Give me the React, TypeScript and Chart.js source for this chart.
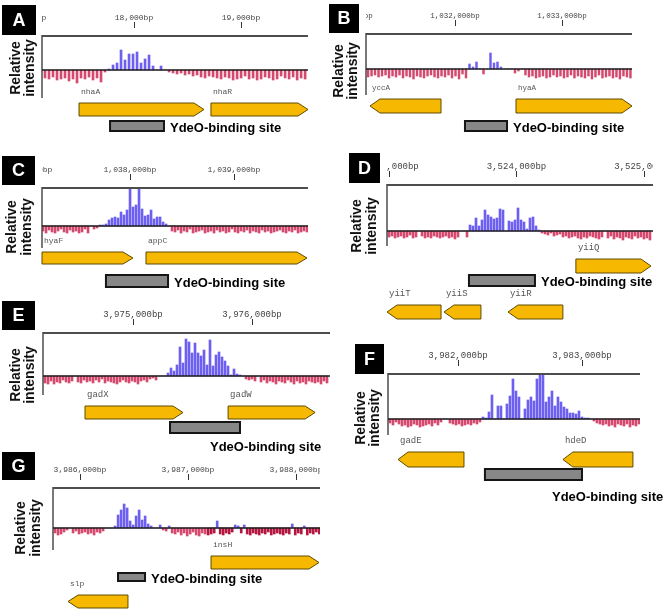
import React, { useEffect, useRef } from "react";
import { Chart, registerables } from "chart.js";
Chart.register(...registerables);

const W = 670;
const H = 610;

// ---------- DATA ----------
// Panel A (nhaA / nhaR)
const aProbeStart = 17168;
const aProbeStep = 37.4;
const aValues = [
  -8, -9, -7, -10, -9, -8, -11, -9, -13, -8, -9, -7, -10, -8, -12,
  -2,
  1, 5, 7, 20, 10, 16, 16, 18, 7, 11, 15, 4, 0, 4,
  0, -2,
  -3, -4, -3, -5, -4, -6, -5, -7, -8, -6, -7, -8, -9, -7, -8, -10, -9, -8, -6, -9, -8, -10, -9, -7, -8, -10, -9, -6, -8, -9, -7, -10, -8, -9,
];
const aTicks = [17000, 18000, 19000];
const aGenes: [string, number, number, number][] = [
  ["nhaA", 17486, 18654, 1],
  ["nhaR", 18719, 19626, 1],
];
const aSite = [17776, 18280];

// Panel B (yccA / hyaA)
const bProbeStart = 1031187;
const bProbeStep = 32.7;
const bValues = [
  -8, -7, -6, -8, -7, -6, -9, -7, -8, -6, -9, -7, -8, -10, -7, -8, -9, -7, -6, -8, -9, -7, -8, -6, -9, -7, -10, -5, -9,
  5, 2, 7, 0, -5, 0, 16, 6, 7, 2, 0, 0, 0, -4, -2, 0,
  -6, -8, -7, -9, -8, -7, -9, -8, -6, -8, -7, -9, -8, -6, -9, -7, -8, -9, -7, -10, -8, -6, -9, -8, -7, -9, -8, -10, -7, -8, -9,
];
const bTicks = [1031000, 1032000, 1033000];
const bGenes: [string, number, number, number][] = [
  ["yccA", 1031205, 1031869, -1],
  ["hyaA", 1032570, 1033654, 1],
];
const bSite = [1032093, 1032486];

// Panel C (hyaF / appC)
const cProbeStart = 1037164;
const cProbeStep = 28.85;
const cValues = [
  -5, -7, -4, -6, -7, -5, -3, -6, -7, -4, -6, -5, -7, -6, -3, -7,
  0, -3, -2,
  1, 1, 2, 6, 8, 9, 8, 14, 11, 16, 40, 19, 21, 40, 17, 10, 11, 16, 7, 9, 9, 4, 2,
  0,
  -5, -6, -4, -7, -5, -6, -3, -7, -6, -5, -4, -7, -6, -5, -7, -4, -6, -5, -7, -6,
  -3, -6, -7, -5, -6, -4, -7, -5, -6, -7, -4, -6, -5, -7, -6, -5, -4, -6, -7, -5,
  -6, -4, -7, -6, -5, -6,
];
const cTicks = [1037000, 1038000, 1039000];
const cGenes: [string, number, number, number][] = [
  ["hyaF", 1037154, 1038029, 1],
  ["appC", 1038154, 1039702, 1],
];
const cSite = [1037769, 1038366];

// Panel D (yiiQ / yiiT / yiiS / yiiR)
const dProbeStart = 3523000;
const dProbeStep = 23.53;
const dValues = [
  -6, -5, -7, -6, -5, -7, -6, -4, -7, -6, 0, -5, -7, -6, -7, -5, -6, -7, -6, -5, -7, -6, -8, -6, 0, 0, -6,
  6, 5, 13, 5, 11, 21, 16, 14, 12, 13, 22, 21, 0, 10, 9, 11, 23, 11, 9, 2, 13, 14, 5,
  1,
  -2, -3, -4, -2, -5, -4, -3, -6, -5, -7, -6, -5, -7, -8, -6, -7, -5, -6, -7, -8,
  -6, 0, -7, -5, -8, -6, -7, -9, -6, -7, -8, -5, -7, -6, -8, -7, -9,
];
const dTicks = [3523000, 3524000, 3525000];
const dGenes: [string, number, number, number][] = [
  ["yiiQ", 3524466, 3525055, 1],
  ["yiiT", 3522984, 3523408, -1],
  ["yiiS", 3523431, 3523721, -1],
  ["yiiR", 3523933, 3524364, -1],
];
const dSite = [3523627, 3524145];

// Panel E (gadX / gadW)
const eProbeStart = 3974261;
const eProbeStep = 25.2;
const eValues = [
  -7, -8, -5, -8, -6, -7, -4, -6, -7, -5, 0, -6, -7, -4, -6, -5, -7, -4, -6, -3,
  -7, -5, -6, -7, -8, -6, -4, -6, -7, -5, -6, -8, -5, -4, -6, -3, -2, -4,
  0, 0, 0,
  3, 8, 5, 11, 29, 13, 37, 34, 23, 33, 23, 20, 26, 11, 36, 10, 21, 24, 19, 15, 10, 1, 7, 2,
  1, 0,
  -3, -4, -3, -5, 0, -6, -4, -7, -5, -6, -8, -5, -6, -7, -4, -6, -8, -5, -7, -6,
  -8, -5, -6, -7, -6, -8, -5, -7,
];
const eTicks = [3974000, 3975000, 3976000];
const eGenes: [string, number, number, number][] = [
  ["gadX", 3974597, 3975420, 1],
  ["gadW", 3975799, 3976530, 1],
];
const eSite = [3975311, 3975899];

// Panel F (gadE / hdeD)
const fProbeStart = 3981451;
const fProbeStep = 24.2;
const fValues = [
  -4, -6, -3, -5, -7, -6, -8, -7, -5, -6, -8, -7, -6, -5, -7, -4, -6, -3, 0, 0,
  -4, -5, -6, -5, -7, -6, -5, -6, -4, -5, -3,
  2, 1, 7, 24, 0, 13, 13, 0, 15, 23, 40, 28, 22, 0, 10, 19, 22, 18, 40, 44,
  44, 17, 22, 28, 13, 22, 17, 12, 10, 6, 6, 5, 8, 2, 1,
  1, 0,
  -2, -4, -5, -6, -5, -7, -6, -8, -5, -6, -7, -5, -8, -6, -7, -5,
];
const fTicks = [3981000, 3982000, 3983000, 3984000];
const fGenes: [string, number, number, number][] = [
  ["gadE", 3981516, 3982048, -1],
  ["hdeD", 3982846, 3983411, -1],
];
const fSite = [3982217, 3983000];

// Panel G (insH / slp)
const gProbeStart = 3985769;
const gProbeStep = 27.8;
const gValues = [
  -5, -7, -6, -4, -2, 0, -5, -3, -6, -5, -4, -6, -5, -7, -4, -5, -3,
  0, 0, 0,
  2, 13, 18, 24, 20, 7, 3, 12, 18, 8, 12, 4, 2,
  0, 0, 3, -2, -3, 2, -5, -6, -4, -7, -5, -8, -6, -4, -7, -8, -5, -6, -7, -6,
  -5, 7, -6, -7, -5, -6, -4, 3, 2, -5, 3, -6, -7, -5, -6, -7, -5, -6, -4, -7,
  -6, -5, -6, -7, -5, -6, 4, -7, -5, -6, 2, -7, -5, -6, -4, -6,
];
const gTicks = [3985000, 3986000, 3987000, 3988000];
const gGenes: [string, number, number, number][] = [
  ["insH", 3987213, 3988213, 1],
  ["slp", 3985889, 3986444, -1],
];
const gSite = [3986352, 3986602];

// ---------- LAYOUT / STYLE ----------
type Panel = {
  letter: string;
  box: [number, number, number, number];
  area: [number, number, number, number]; // L, T, R, B
  xRange: [number, number];
  yRange: [number, number];
  probeStart: number;
  probeStep: number;
  values: number[];
  ticks: number[];
  tickFont: number;
  genes: [string, number, number, number][];
  geneTops: number[];
  arrowH: number;
  site: number[];
  siteY: [number, number];
  siteLabel?: [number, number];
  relX: number;
  relY: number;
  barW: number;
  darkFrom?: number;
};

const PANELS: Panel[] = [
  {
    letter: "A", box: [2, 5, 34, 30], area: [42, 36, 308, 98],
    xRange: [17140, 19626], yRange: [-28, 34],
    probeStart: aProbeStart, probeStep: aProbeStep, values: aValues,
    ticks: aTicks, tickFont: 8, genes: aGenes, geneTops: [103, 103], arrowH: 13,
    site: aSite, siteY: [121, 131], relX: 16, relY: 68, barW: 2,
  },
  {
    letter: "B", box: [329, 4, 30, 29], area: [366, 34, 632, 95],
    xRange: [1031168, 1033654], yRange: [-26, 35],
    probeStart: bProbeStart, probeStep: bProbeStep, values: bValues,
    ticks: bTicks, tickFont: 7.5, genes: bGenes, geneTops: [99, 99], arrowH: 14,
    site: bSite, siteY: [121, 131], relX: 339, relY: 71, barW: 1.8,
  },
  {
    letter: "C", box: [2, 156, 33, 29], area: [42, 188, 308, 248],
    xRange: [1037154, 1039712], yRange: [-22, 38],
    probeStart: cProbeStart, probeStep: cProbeStep, values: cValues,
    ticks: cTicks, tickFont: 8, genes: cGenes, geneTops: [252, 252], arrowH: 12,
    site: cSite, siteY: [275, 287], relX: 12.5, relY: 227, barW: 2,
  },
  {
    letter: "D", box: [349, 153, 31, 30], area: [387, 185, 653, 246],
    xRange: [3522984, 3525071], yRange: [-15, 46],
    probeStart: dProbeStart, probeStep: dProbeStep, values: dValues,
    ticks: dTicks, tickFont: 9, genes: dGenes, geneTops: [259, 305, 305, 305], arrowH: 14,
    site: dSite, siteY: [275, 286], relX: 357.5, relY: 226, barW: 2,
  },
  {
    letter: "E", box: [2, 301, 33, 29], area: [43, 333, 330, 395],
    xRange: [3974244, 3976655], yRange: [-19, 43],
    probeStart: eProbeStart, probeStep: eProbeStep, values: eValues,
    ticks: eTicks, tickFont: 9, genes: eGenes, geneTops: [406, 406], arrowH: 13,
    site: eSite, siteY: [422, 433], siteLabel: [210, 447], relX: 16, relY: 375, barW: 2,
  },
  {
    letter: "F", box: [355, 344, 29, 30], area: [388, 374, 640, 435],
    xRange: [3981435, 3983468], yRange: [-16, 45],
    probeStart: fProbeStart, probeStep: fProbeStep, values: fValues,
    ticks: fTicks, tickFont: 9, genes: fGenes, geneTops: [452, 452], arrowH: 15,
    site: fSite, siteY: [469, 480], siteLabel: [552, 497], relX: 361, relY: 418, barW: 2,
  },
  {
    letter: "G", box: [2, 452, 33, 28], area: [53, 488, 320, 550],
    xRange: [3985750, 3988222], yRange: [-22, 40],
    probeStart: gProbeStart, probeStep: gProbeStep, values: gValues,
    ticks: gTicks, tickFont: 8, genes: gGenes, geneTops: [556, 595], arrowH: 13,
    site: gSite, siteY: [573, 581], relX: 21.5, relY: 528, barW: 2, darkFrom: 3987170,
  },
];

const BLUE = "#6d5ff0";
const RED = "#d4496d";
const DARK_RED = "#b3173f";
const GOLD = "#f6b800";
const GOLD_EDGE = "#5e4b00";
const SANS = '"Liberation Sans", Arial, sans-serif';
const MONO = '"Liberation Mono", "DejaVu Sans Mono", monospace';

function decoPlugin(p: Panel) {
  return {
    id: "deco" + p.letter,
    afterDatasetsDraw(chart: any) {
      const ctx: CanvasRenderingContext2D = chart.ctx;
      const xs = chart.scales.x;
      const ys = chart.scales.y;
      const { left, right, top, bottom } = chart.chartArea;
      const line = (x1: number, y1: number, x2: number, y2: number) => {
        ctx.beginPath();
        ctx.moveTo(x1, y1);
        ctx.lineTo(x2, y2);
        ctx.stroke();
      };
      ctx.save();
      // axes
      ctx.strokeStyle = "#4d4d4d";
      ctx.lineWidth = 2;
      line(left, top, right, top);
      ctx.lineWidth = 1.5;
      line(left, top - 1, left, bottom);
      const y0 = ys.getPixelForValue(0);
      ctx.strokeStyle = "#1e1e1e";
      ctx.lineWidth = 1.3;
      line(left, y0, right, y0);

      // top ticks & labels, clipped to plot width
      ctx.save();
      ctx.beginPath();
      ctx.rect(left, 0, right - left, H);
      ctx.clip();
      ctx.font = `${p.tickFont}px ${MONO}`;
      ctx.fillStyle = "#444";
      ctx.textAlign = "center";
      ctx.textBaseline = "middle";
      ctx.strokeStyle = "#333";
      ctx.lineWidth = 1;
      for (const t of p.ticks) {
        const x = xs.getPixelForValue(t);
        ctx.fillText(t.toLocaleString("en-US") + "bp", x, top - 18);
        const xr = Math.round(x) + 0.5;
        line(xr, top - 14, xr, top - 8);
      }
      ctx.restore();

      // panel letter
      const [bx, by, bw, bh] = p.box;
      ctx.fillStyle = "#000";
      ctx.fillRect(bx, by, bw, bh);
      ctx.fillStyle = "#fff";
      ctx.font = `bold 18px ${SANS}`;
      ctx.textAlign = "center";
      ctx.textBaseline = "middle";
      ctx.fillText(p.letter, bx + bw / 2, by + bh / 2 + 1);

      // Relative intensity
      ctx.fillStyle = "#111";
      ctx.font = `bold 14px ${SANS}`;
      ["Relative", "intensity"].forEach((s, i) => {
        ctx.save();
        ctx.translate(p.relX + i * 14.5, p.relY);
        ctx.rotate(-Math.PI / 2);
        ctx.textAlign = "center";
        ctx.textBaseline = "middle";
        ctx.fillText(s, 0, 0);
        ctx.restore();
      });

      // genes
      p.genes.forEach(([name, s, e, strand], i) => {
        const x1 = Math.max(left, xs.getPixelForValue(s));
        const x2 = Math.min(right + 1, xs.getPixelForValue(e));
        const yt = p.geneTops[i];
        const h = p.arrowH;
        const head = Math.min(10, (x2 - x1) * 0.5);
        ctx.beginPath();
        if (strand > 0) {
          ctx.moveTo(x1, yt);
          ctx.lineTo(x2 - head, yt);
          ctx.lineTo(x2, yt + h / 2);
          ctx.lineTo(x2 - head, yt + h);
          ctx.lineTo(x1, yt + h);
        } else {
          ctx.moveTo(x1, yt + h / 2);
          ctx.lineTo(x1 + head, yt);
          ctx.lineTo(x2, yt);
          ctx.lineTo(x2, yt + h);
          ctx.lineTo(x1 + head, yt + h);
        }
        ctx.closePath();
        ctx.fillStyle = GOLD;
        ctx.fill();
        ctx.strokeStyle = GOLD_EDGE;
        ctx.lineWidth = 1;
        ctx.stroke();
        ctx.fillStyle = "#555";
        ctx.font = `${p.tickFont}px ${MONO}`;
        ctx.textAlign = "left";
        ctx.textBaseline = "middle";
        ctx.fillText(name, x1 + 2, yt - 11);
      });

      // binding site
      const sx1 = xs.getPixelForValue(p.site[0]);
      const sx2 = xs.getPixelForValue(p.site[1]);
      const [sy1, sy2] = p.siteY;
      ctx.fillStyle = "#878787";
      ctx.fillRect(sx1, sy1, sx2 - sx1, sy2 - sy1);
      ctx.strokeStyle = "#151515";
      ctx.lineWidth = 2;
      ctx.strokeRect(sx1, sy1, sx2 - sx1, sy2 - sy1);
      ctx.fillStyle = "#000";
      ctx.font = `bold 13px ${SANS}`;
      ctx.textAlign = "left";
      ctx.textBaseline = "middle";
      const lx = p.siteLabel ? p.siteLabel[0] : sx2 + 6;
      const ly = p.siteLabel ? p.siteLabel[1] : (sy1 + sy2) / 2 + 2;
      ctx.fillText("YdeO-binding site", lx, ly);
      ctx.restore();
    },
  };
}

function buildConfig(p: Panel): any {
  const [L, T, R, B] = p.area;
  const pts = p.values.map((v, i) => ({ x: p.probeStart + i * p.probeStep, y: v }));
  return {
    type: "bar",
    data: {
      datasets: [
        {
          data: pts,
          borderWidth: 0,
          barThickness: p.barW,
          backgroundColor: (c: any) => {
            const r = c.raw;
            if (!r) return BLUE;
            if (r.y >= 0) return BLUE;
            if (p.darkFrom && r.x >= p.darkFrom) return DARK_RED;
            return RED;
          },
        },
      ],
    },
    options: {
      responsive: false,
      animation: false,
      devicePixelRatio: 1,
      events: [],
      layout: { padding: { left: L, top: T, right: W - R, bottom: H - B } },
      plugins: { legend: { display: false }, tooltip: { enabled: false } },
      scales: {
        x: { type: "linear", min: p.xRange[0], max: p.xRange[1], offset: false, display: false },
        y: { type: "linear", min: p.yRange[0], max: p.yRange[1], display: false },
      },
    },
    plugins: [decoPlugin(p)],
  };
}

export default function App() {
  const refs = useRef<(HTMLCanvasElement | null)[]>([]);
  useEffect(() => {
    const charts = PANELS.map((p, i) => new Chart(refs.current[i] as HTMLCanvasElement, buildConfig(p)));
    return () => charts.forEach((c) => c.destroy());
  }, []);
  return (
    <div
      style={{
        position: "absolute",
        left: 0,
        top: 0,
        width: W,
        height: H,
        background: "#fff",
        overflow: "hidden",
      }}
    >
      {PANELS.map((p, i) => (
        <canvas
          key={p.letter}
          ref={(el) => {
            refs.current[i] = el;
          }}
          width={W}
          height={H}
          style={{ position: "absolute", left: 0, top: 0, width: W, height: H }}
        />
      ))}
    </div>
  );
}
